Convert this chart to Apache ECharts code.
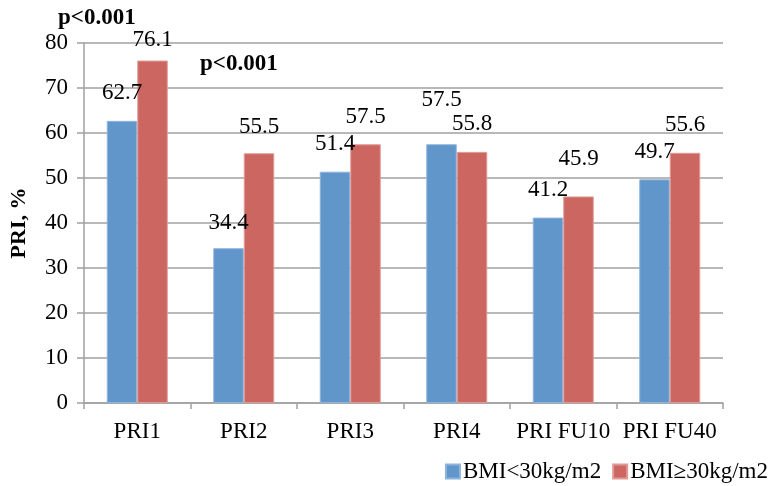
<!DOCTYPE html>
<html>
<head>
<meta charset="utf-8">
<script src="https://cdn.jsdelivr.net/npm/echarts@6/dist/echarts.min.js"></script>
<style>
  html, body { margin: 0; padding: 0; background: #fff; }
  #chart { width: 775px; height: 486px; }
</style>
</head>
<body>
<div id="chart"></div>
<script>
// PRI by BMI group
const categories = ['PRI1', 'PRI2', 'PRI3', 'PRI4', 'PRI FU10', 'PRI FU40'];
const bmiLow = [62.7, 34.4, 51.4, 57.5, 41.2, 49.7];
const bmiHigh = [76.1, 55.5, 57.5, 55.8, 45.9, 55.6];
const seriesNames = ['BMI<30kg/m2', 'BMI\u226530kg/m2'];
const yTicks = { min: 0, max: 80, interval: 10 };
const pLabel = 'p<0.001';

// vertical nudge (px, positive = down) for value labels moved off their default spot
const lowLabelShift = [0, 2, 0, -17, 0, 0];
const highLabelShift = [7, 1, 0, 0, -10, 0];

const FONT = '"Liberation Serif", "Times New Roman", serif';
const GRID = '#a0a0a0';

function withLabels(values, shifts) {
  return values.map((v, i) => ({
    value: v,
    label: { offset: [0, shifts[i]] }
  }));
}

const labelStyle = {
  show: true,
  position: 'top',
  distance: 16,
  fontFamily: FONT,
  fontSize: 23,
  lineHeight: 23,
  color: '#000',
  formatter: p => p.value.toFixed(1)
};

const chart = echarts.init(document.getElementById('chart'), null, { renderer: 'canvas' });

chart.setOption({
  animation: false,
  backgroundColor: '#fff',
  textStyle: { fontFamily: FONT },
  grid: { left: 83, right: 52, top: 43, bottom: 83, containLabel: false },
  legend: {
    right: 2,
    top: 455,
    itemWidth: 14,
    itemHeight: 14,
    itemGap: 11,
    icon: 'rect',
    textStyle: { fontFamily: FONT, fontSize: 23, color: '#000', padding: [0, 0, 0, -2] },
    data: seriesNames
  },
  xAxis: {
    type: 'category',
    data: categories,
    axisLine: { lineStyle: { color: GRID, width: 1.5 } },
    axisTick: { show: true, length: 6, alignWithLabel: false, lineStyle: { color: GRID, width: 1.5 } },
    axisLabel: { fontFamily: FONT, fontSize: 23, color: '#000', margin: 17, interval: 0 }
  },
  yAxis: {
    type: 'value',
    min: yTicks.min,
    max: yTicks.max,
    interval: yTicks.interval,
    name: 'PRI, %',
    nameLocation: 'middle',
    nameGap: 54,
    nameRotate: 90,
    nameTextStyle: { fontFamily: FONT, fontSize: 22, fontWeight: 'bold', color: '#000' },
    axisLine: { show: true, lineStyle: { color: GRID, width: 1.5 } },
    axisTick: { show: true, length: 7, lineStyle: { color: GRID, width: 1.5 } },
    axisLabel: { fontFamily: FONT, fontSize: 23, color: '#000', margin: 16 },
    splitLine: { show: true, lineStyle: { color: GRID, width: 1.5 } }
  },
  series: [
    {
      name: seriesNames[0],
      type: 'bar',
      data: withLabels(bmiLow, lowLabelShift),
      barWidth: 30.5,
      barGap: '0%',
      itemStyle: { color: '#6096ca', borderColor: '#8fb4dc', borderWidth: 1 },
      label: labelStyle
    },
    {
      name: seriesNames[1],
      type: 'bar',
      data: withLabels(bmiHigh, highLabelShift),
      barWidth: 30.5,
      barGap: '0%',
      itemStyle: { color: '#cc6660', borderColor: '#e09a96', borderWidth: 1 },
      label: labelStyle
    }
  ],
  graphic: [
    {
      type: 'text',
      left: 58,
      top: 7,
      style: { text: pLabel, fontFamily: FONT, fontSize: 23, fontWeight: 'bold', fill: '#000' }
    },
    {
      type: 'text',
      left: 200,
      top: 53,
      style: { text: pLabel, fontFamily: FONT, fontSize: 23, fontWeight: 'bold', fill: '#000' }
    }
  ]
});
</script>
</body>
</html>
